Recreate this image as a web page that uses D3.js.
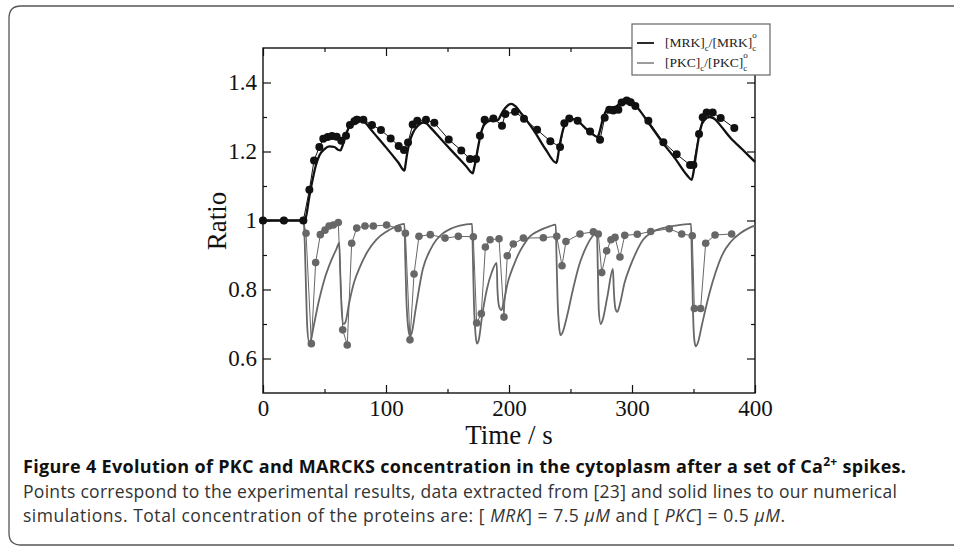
<!DOCTYPE html>
<html>
<head>
<meta charset="utf-8">
<script src="https://cdn.jsdelivr.net/npm/d3@7"></script>
<style>
  body { margin: 0; background: #fff; }
  svg { display: block; }
</style>
</head>
<body>
<script>
// experimental points (time s, ratio)
var mrkExp = [[0,1],[17,1],[32.8,1],[37.7,1.089],[41.5,1.174],[45.8,1.213],[49,1.237],[52.6,1.242],
  [56.1,1.245],[59.9,1.243],[63.7,1.231],[67.5,1.246],[70.7,1.277],[74.3,1.288],[76.2,1.292],
  [81.6,1.292],[88.6,1.277],[95.9,1.262],[103.8,1.238],[110.3,1.216],[114.6,1.204],[117.9,1.226],
  [121.7,1.278],[125.4,1.289],[132.5,1.292],[139.3,1.283],[151,1.235],[161.2,1.203],[168.3,1.178],
  [173.2,1.178],[176.4,1.246],[180.2,1.292],[187.3,1.296],[194.3,1.275],[197,1.309],[204.9,1.315],
  [212.2,1.295],[222.8,1.263],[233.6,1.23],[241.5,1.213],[245,1.282],[249,1.296],[255.8,1.289],
  [265.9,1.258],[274,1.234],[277.8,1.298],[281.5,1.321],[284.8,1.319],[288.9,1.321],[291.6,1.342],
  [295.7,1.348],[298.9,1.343],[302.7,1.332],[313.3,1.289],[325.5,1.227],[336.3,1.192],[347.2,1.161],
  [349.9,1.161],[354.5,1.251],[357.5,1.299],[360.7,1.313],[365.6,1.313],[372.1,1.297],[383.2,1.268]];

var pkcExp = [[0,1],[17,1],[32.8,1],[35,0.963],[39.3,0.643],[42.8,0.878],[46.6,0.959],[50.4,0.972],
  [53.7,0.984],[57.2,0.987],[61.2,0.994],[64.8,0.683],[68.5,0.639],[72.1,0.934],[76.2,0.978],
  [82.9,0.984],[89.7,0.984],[100.5,0.987],[109.8,0.977],[115.8,0.963],[119.5,0.654],[122.8,0.845],
  [126.8,0.954],[136,0.959],[148,0.949],[158.8,0.954],[171,0.953],[173.7,0.703],[177.5,0.73],
  [180.8,0.923],[184.6,0.944],[191.9,0.947],[195.9,0.72],[198.6,0.898],[203.5,0.932],[211.7,0.949],
  [227.9,0.95],[238.8,0.954],[243.1,0.869],[246.3,0.939],[257.7,0.961],[268.6,0.967],[272.6,0.961],
  [275.4,0.849],[279.4,0.912],[282.9,0.944],[286.2,0.951],[290.2,0.894],[294.1,0.957],[304.3,0.96],
  [315.2,0.968],[330.3,0.976],[340.4,0.961],[349,0.956],[350.7,0.745],[355.8,0.745],[359.9,0.934],
  [367.5,0.958],[381,0.961]];

// numerical simulations
var mrkModel = [[0,1],[34,1],[35.5,1.02],[37,1.055],[39,1.095],[41,1.13],[43,1.16],[46,1.19],
  [50,1.207],[54,1.215],[58,1.213],[61,1.205],[63,1.203],[64.5,1.215],[67,1.245],[70,1.272],
  [73,1.29],[76,1.3],[79,1.297],[82,1.288],[90,1.254],[100,1.212],[110,1.168],[115,1.145],
  [115.8,1.16],[117,1.19],[119,1.225],[122,1.255],[126,1.275],[130,1.284],[133,1.281],[136,1.27],
  [145,1.235],[155,1.196],[165,1.158],[170.5,1.137],[171.5,1.15],[173,1.175],[175,1.215],
  [177,1.25],[179,1.272],[182,1.285],[186,1.29],[190,1.29],[191.5,1.293],[194,1.31],[197,1.326],
  [200,1.336],[202,1.338],[205,1.332],[210,1.31],[220,1.262],[230,1.205],[238.5,1.167],
  [239.5,1.18],[241,1.215],[243,1.25],[245,1.275],[248,1.29],[252,1.294],[256,1.288],[262,1.268],
  [268,1.25],[272,1.242],[273.5,1.255],[276,1.29],[279,1.318],[283,1.327],[287,1.33],[290,1.34],
  [293,1.35],[296,1.355],[299,1.35],[305,1.325],[315,1.275],[325,1.225],[335,1.18],[345,1.13],
  [348.5,1.118],[350,1.14],[352,1.19],[354,1.235],[356,1.27],[359,1.292],[363,1.3],[367,1.295],
  [372,1.275],[380,1.24],[390,1.205],[400,1.17]];

var pkcModel = [[0,1],[33,1],[34,0.93],[35,0.8],[36,0.69],[37.5,0.647],[39,0.655],[41,0.69],
  [45,0.76],[50,0.83],[55,0.88],[60,0.92],[62,0.936],[62.8,0.85],[64,0.74],[65.5,0.7],[67,0.705],
  [70,0.76],[74,0.82],[79,0.867],[85,0.91],[92,0.944],[100,0.967],[106,0.979],[115,0.99],
  [115.6,0.9],[116.5,0.78],[118,0.69],[119.5,0.665],[121,0.675],[124,0.74],[130,0.86],[136,0.915],
  [141,0.944],[146,0.962],[152,0.975],[160,0.985],[170,0.99],[170.6,0.9],[171.5,0.76],[172.8,0.67],
  [174,0.643],[175.5,0.655],[178,0.72],[182,0.8],[186,0.85],[190,0.877],[190.6,0.8],[192,0.75],
  [193.8,0.74],[195.5,0.76],[199,0.82],[203.5,0.867],[208,0.905],[212,0.93],[217,0.954],[224,0.97],
  [233,0.983],[238,0.988],[238.6,0.9],[239.5,0.77],[240.8,0.69],[242,0.667],[243.5,0.675],
  [247,0.72],[252,0.8],[257,0.87],[263,0.925],[268,0.955],[271.5,0.966],[272.2,0.86],[273,0.74],
  [274.5,0.7],[276,0.71],[280,0.78],[284.5,0.86],[285.2,0.8],[286.5,0.745],[288,0.735],[290,0.755],
  [294,0.82],[298.5,0.867],[303,0.905],[309,0.944],[316,0.966],[325,0.978],[335,0.985],[348,0.99],
  [348.6,0.9],[349.5,0.75],[350.5,0.66],[351.8,0.635],[353.5,0.645],[357,0.7],[363,0.79],[368,0.85],
  [374,0.905],[380,0.937],[388,0.963],[395,0.978],[400,0.985]];

var xMajor = [0, 100, 200, 300, 400];
var xMinor = [50, 150, 250, 350];
var yMajor = [0.6, 0.8, 1, 1.2, 1.4];
var yMinor = [0.7, 0.9, 1.1, 1.3];

var W = 954, H = 548;
var plotL = 263, plotR = 755, plotT = 48, plotB = 393;

var svg = d3.select("body").append("svg")
    .attr("width", W)
    .attr("height", H);

// figure frame, rounded on the left
svg.append("path")
    .attr("d", "M958,6 H21 Q9,6 9,18 V533 Q9,545 21,545 H958")
    .attr("fill", "none")
    .attr("stroke", "#555")
    .attr("stroke-width", 1.3);

var x = d3.scaleLinear().domain([0, 400]).range([plotL, plotR]);
var y = d3.scaleLinear().domain([0.5, 1.5]).range([plotB, plotT]);

function styleAxis(g, labels) {
  g.select(".domain").remove();
  g.selectAll(".tick line").attr("stroke", "#111").attr("stroke-width", 1.2);
  g.selectAll(".tick text")
    .attr("font-family", "'Liberation Serif', 'DejaVu Serif', serif")
    .attr("font-size", 23)
    .attr("fill", "#111");
  if (!labels) g.selectAll(".tick text").remove();
}

// inward ticks on all four sides
svg.append("g").attr("transform", "translate(0," + plotB + ")")
  .call(d3.axisBottom(x).tickValues(xMajor).tickSizeInner(-8).tickSizeOuter(0).tickPadding(7).tickFormat(d3.format("d")))
  .call(styleAxis, true);
svg.append("g").attr("transform", "translate(0," + plotB + ")")
  .call(d3.axisBottom(x).tickValues(xMinor).tickSizeInner(-4).tickSizeOuter(0))
  .call(styleAxis, false);
svg.append("g").attr("transform", "translate(0," + plotT + ")")
  .call(d3.axisTop(x).tickValues(xMajor).tickSizeInner(-8).tickSizeOuter(0))
  .call(styleAxis, false);
svg.append("g").attr("transform", "translate(0," + plotT + ")")
  .call(d3.axisTop(x).tickValues(xMinor).tickSizeInner(-4).tickSizeOuter(0))
  .call(styleAxis, false);
svg.append("g").attr("transform", "translate(" + plotL + ",0)")
  .call(d3.axisLeft(y).tickValues(yMajor).tickSizeInner(-8).tickSizeOuter(0).tickPadding(6).tickFormat(function(d) { return String(d); }))
  .call(styleAxis, true);
svg.append("g").attr("transform", "translate(" + plotL + ",0)")
  .call(d3.axisLeft(y).tickValues(yMinor).tickSizeInner(-4).tickSizeOuter(0))
  .call(styleAxis, false);
svg.append("g").attr("transform", "translate(" + plotR + ",0)")
  .call(d3.axisRight(y).tickValues(yMajor).tickSizeInner(-8).tickSizeOuter(0))
  .call(styleAxis, false);
svg.append("g").attr("transform", "translate(" + plotR + ",0)")
  .call(d3.axisRight(y).tickValues(yMinor).tickSizeInner(-4).tickSizeOuter(0))
  .call(styleAxis, false);

svg.append("rect")
    .attr("x", plotL).attr("y", plotT)
    .attr("width", plotR - plotL).attr("height", plotB - plotT)
    .attr("fill", "none").attr("stroke", "#111").attr("stroke-width", 1.4);

var line = d3.line().x(function(d) { return x(d[0]); }).y(function(d) { return y(d[1]); });
var smooth = d3.line().curve(d3.curveMonotoneX)
    .x(function(d) { return x(d[0]); }).y(function(d) { return y(d[1]); });

var gray = "#676767", black = "#111";

svg.append("path").datum(pkcModel)
    .attr("d", smooth).attr("fill", "none").attr("stroke", gray).attr("stroke-width", 1.8);
svg.append("path").datum(pkcExp)
    .attr("d", line).attr("fill", "none").attr("stroke", gray).attr("stroke-width", 1);
svg.selectAll(".pkcdot").data(pkcExp).enter().append("circle")
    .attr("class", "pkcdot")
    .attr("cx", function(d) { return x(d[0]); })
    .attr("cy", function(d) { return y(d[1]); })
    .attr("r", 3.8).attr("fill", gray);

svg.append("path").datum(mrkModel)
    .attr("d", smooth).attr("fill", "none").attr("stroke", black).attr("stroke-width", 2.3);
svg.append("path").datum(mrkExp)
    .attr("d", line).attr("fill", "none").attr("stroke", black).attr("stroke-width", 1);
svg.selectAll(".mrkdot").data(mrkExp).enter().append("circle")
    .attr("class", "mrkdot")
    .attr("cx", function(d) { return x(d[0]); })
    .attr("cy", function(d) { return y(d[1]); })
    .attr("r", 4).attr("fill", black);

// axis titles
svg.append("text")
    .attr("x", (plotL + plotR) / 2).attr("y", 444)
    .attr("text-anchor", "middle")
    .attr("font-family", "'Liberation Serif', serif").attr("font-size", 27)
    .attr("fill", "#111")
    .text("Time / s");
svg.append("text")
    .attr("transform", "translate(226,221) rotate(-90)")
    .attr("text-anchor", "middle")
    .attr("font-family", "'Liberation Serif', serif").attr("font-size", 27)
    .attr("fill", "#111")
    .text("Ratio");

// legend
var legend = svg.append("g");
legend.append("rect")
    .attr("x", 632).attr("y", 24).attr("width", 138).attr("height", 51)
    .attr("fill", "#fff").attr("stroke", "#666").attr("stroke-width", 1.2);
var legendItems = [
  { name: "MRK", color: black, width: 1.8 },
  { name: "PKC", color: gray, width: 1.3 }
];
legendItems.forEach(function(item, i) {
  var ly = 43 + i * 20;
  legend.append("line")
      .attr("x1", 637).attr("x2", 654).attr("y1", ly).attr("y2", ly)
      .attr("stroke", item.color).attr("stroke-width", item.width);
  var t = legend.append("text")
      .attr("x", 665).attr("y", ly + 4)
      .attr("font-family", "'Liberation Serif', serif").attr("font-size", 13.5)
      .attr("fill", "#222");
  t.append("tspan").text("[" + item.name + "]");
  t.append("tspan").attr("font-size", 9).attr("dy", 4).text("c");
  t.append("tspan").attr("dy", -4).text("/[" + item.name + "]");
  t.append("tspan").attr("font-size", 9).attr("dy", 4).text("c");
  t.append("tspan").attr("font-size", 9).attr("dx", -4).attr("dy", -13).text("o");
});

// caption
var cap = svg.append("g")
    .attr("font-family", "'Open Sans', 'Noto Sans', sans-serif")
    .attr("fill", "#111");
var t1 = cap.append("text").attr("x", 23).attr("y", 473)
    .attr("font-size", 18).attr("font-weight", "bold")
    .attr("textLength", 883);
t1.append("tspan").text("Figure 4 Evolution of PKC and MARCKS concentration in the cytoplasm after a set of Ca");
t1.append("tspan").attr("font-size", 12).attr("dy", -7).text("2+");
t1.append("tspan").attr("dy", 7).text(" spikes.");

cap.append("text").attr("x", 23).attr("y", 498).attr("font-size", 17.5)
    .attr("fill", "#333").attr("textLength", 874)
    .text("Points correspond to the experimental results, data extracted from [23] and solid lines to our numerical");
var t3 = cap.append("text").attr("x", 23).attr("y", 522).attr("font-size", 17.5)
    .attr("fill", "#333").attr("textLength", 762);
t3.append("tspan").text("simulations. Total concentration of the proteins are: [ ");
t3.append("tspan").attr("font-style", "italic").text("MRK");
t3.append("tspan").text("]  =  7.5 ");
t3.append("tspan").attr("font-style", "italic").text("μM");
t3.append("tspan").text(" and [ ");
t3.append("tspan").attr("font-style", "italic").text("PKC");
t3.append("tspan").text("]  =  0.5 ");
t3.append("tspan").attr("font-style", "italic").text("μM");
t3.append("tspan").text(".");
</script>
</body>
</html>
